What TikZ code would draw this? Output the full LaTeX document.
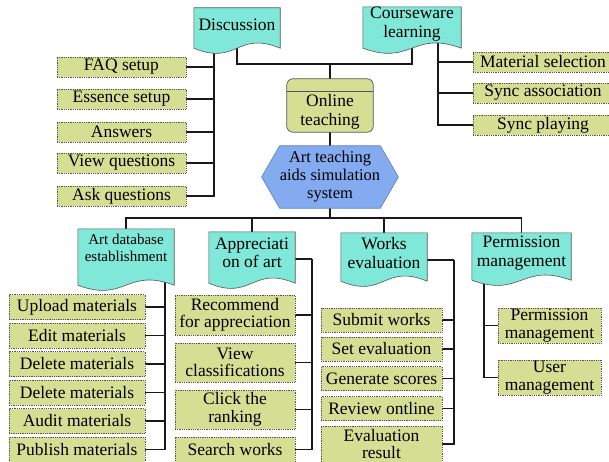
\documentclass[tikz,border=0pt]{standalone}
\usepackage{fontspec}
\setmainfont{Liberation Serif}
\usetikzlibrary{calc}
\pgfdeclarelayer{edges}
\pgfdeclarelayer{shapes}
\pgfsetlayers{edges,shapes,main}
\definecolor{docfill}{HTML}{80E8D8}
\definecolor{leaffill}{HTML}{D5DF94}
\definecolor{hexfill}{HTML}{84AAF0}
\definecolor{hexline}{HTML}{5C7EC0}
\definecolor{edgegray}{HTML}{555555}
\tikzset{
  txt/.style={font=\fontsize{17.5}{18.5}\selectfont, align=center, inner sep=0pt, text=black},
  docnode/.style={txt},
  leafbox/.style={txt, font=\fontsize{17.5}{17.5}\selectfont, draw=edgegray, densely dotted, line width=0.8pt, fill=leaffill},
  docline/.style={draw=edgegray, line width=0.6pt, fill=docfill},
  conn/.style={draw=black!90, line width=1.3pt},
}
\newcommand\docshape[2]{%
  \draw[docline] (#1.north west) -- (#1.north east) -- ($(#1.south east)+(0,#2)$)
    .. controls ($(#1.south)+(0,#2-18)$) and ($(#1.south)+(0,#2+18)$) .. ($(#1.south west)+(0,#2)$) -- cycle;}
\begin{document}
\begin{tikzpicture}[x=1pt,y=-1pt]
\useasboundingbox (0,0) rectangle (609,462);
% top level
\node[docnode, minimum width=86, minimum height=34] (disc) at (237,25) {Discussion};
\node[docnode, minimum width=98, minimum height=32] (course) at (412,24) {Courseware\\learning};
\node[txt, minimum width=86, minimum height=40] (online) at (330,112) {Online\\teaching};
\node[txt, font=\fontsize{16.5}{18}\selectfont, minimum width=100, minimum height=62] (hex) at (330,177) {Art teaching\\aids simulation\\system};
% second level
\node[docnode, font=\fontsize{15}{17}\selectfont, minimum width=96, minimum height=38] (artdb) at (126,248) {Art database\\establishment};
\node[docnode, minimum width=86, minimum height=42] (appr) at (252,253) {Appreciati\\on of art};
\node[docnode, minimum width=86, minimum height=40] (works) at (384,253) {Works\\evaluation};
\node[docnode, minimum width=99, minimum height=40] (perm) at (521.5,253) {Permission\\management};
% discussion items
\node[leafbox, minimum width=129, minimum height=20] (faq) at (121.5,67) {FAQ setup};
\node[leafbox, minimum width=129, minimum height=20] (ess) at (121.5,99) {Essence setup};
\node[leafbox, minimum width=129, minimum height=20] (ans) at (121.5,132) {Answers};
\node[leafbox, minimum width=129, minimum height=20] (viewq) at (121.5,163) {View questions};
\node[leafbox, minimum width=129, minimum height=20] (askq) at (121.5,196) {Ask questions};
% courseware items
\node[leafbox, minimum width=140, minimum height=20] (mat) at (543,62) {Material selection};
\node[leafbox, minimum width=140, minimum height=20] (sasso) at (543,93) {Sync association};
\node[leafbox, minimum width=140, minimum height=20] (splay) at (543,125) {Sync playing};
% art database items
\node[leafbox, minimum width=136, minimum height=25] (up) at (77,307) {Upload materials};
\node[leafbox, minimum width=136, minimum height=25] (edit) at (77,335.5) {Edit materials};
\node[leafbox, minimum width=136, minimum height=25] (del1) at (77,364) {Delete materials};
\node[leafbox, minimum width=136, minimum height=25] (del2) at (77,392.5) {Delete materials};
\node[leafbox, minimum width=136, minimum height=25] (aud) at (77,421) {Audit materials};
\node[leafbox, minimum width=136, minimum height=25] (pub) at (77,449.5) {Publish materials};
% appreciation items
\node[leafbox, minimum width=120, minimum height=40] (rec) at (235,315) {Recommend\\for appreciation};
\node[leafbox, minimum width=120, minimum height=39] (viewc) at (235,362.5) {View\\classifications};
\node[leafbox, minimum width=120, minimum height=39] (click) at (235,409.5) {Click the\\ranking};
\node[leafbox, minimum width=120, minimum height=25] (search) at (235,449.5) {Search works};
% works items
\node[leafbox, minimum width=121, minimum height=24] (sub) at (381.5,320) {Submit works};
\node[leafbox, minimum width=121, minimum height=24] (seteval) at (381.5,349) {Set evaluation};
\node[leafbox, minimum width=121, minimum height=24] (gen) at (381.5,378.5) {Generate scores};
\node[leafbox, minimum width=121, minimum height=24] (rev) at (381.5,408.5) {Review ontline};
\node[leafbox, minimum width=121, minimum height=36] (evres) at (381.5,444) {Evaluation\\result};
% permission items
\node[leafbox, minimum width=103, minimum height=35] (pm) at (549.5,325.5) {Permission\\management};
\node[leafbox, minimum width=103, minimum height=35] (um) at (549.5,377.5) {User\\management};
% shapes
\begin{pgfonlayer}{shapes}
\docshape{disc}{6}
\docshape{course}{7}
\docshape{artdb}{18}
\docshape{appr}{9}
\docshape{works}{8}
\docshape{perm}{7}
\draw[draw=hexline, line width=0.6pt, fill=hexfill] (hex.north west) -- (hex.north east) -- ($(hex.east)+(18,0)$) -- (hex.south east) -- (hex.south west) -- ($(hex.west)+(-18,0)$) -- cycle;
\draw[draw=edgegray, line width=0.7pt, fill=leaffill, rounded corners=6pt] ($(online.north west)+(0,-13)$) rectangle (online.south east);
\draw[draw=edgegray, line width=0.7pt] (online.north west) -- (online.north east);
\end{pgfonlayer}
% connectors
\begin{pgfonlayer}{edges}
\coordinate (tb) at (330,64);
\coordinate (mb) at (330,218);
\draw[conn] (disc.center) |- (tb) -| (course.center);
\draw[conn] (tb) -- (online.north);
\draw[conn] (online.south) -- (hex.north);
\draw[conn] (hex.south) -- (mb);
\draw[conn] (mb) -| (artdb.north);
\draw[conn] (mb) -| (appr.north);
\draw[conn] (mb) -| (works.north);
\draw[conn] (mb) -| (perm.north);
\coordinate (dt) at (214,40);
\foreach \n in {faq,ess,ans,viewq,askq} \draw[conn] (dt) |- (\n.east);
\coordinate (ct) at (438,40);
\foreach \n in {mat,sasso,splay} \draw[conn] (ct) |- (\n.west);
\coordinate (at) at (165,265);
\foreach \n in {up,edit,del1,del2,aud,pub} \draw[conn] (at) |- (\n.east);
\coordinate (pt) at (312,259);
\draw[conn] (appr.center |- pt) -- (pt);
\foreach \n in {rec,viewc,click,search} \draw[conn] (pt) |- (\n.east);
\coordinate (wt) at (454,260);
\draw[conn] (works.center |- wt) -- (wt);
\foreach \n in {sub,seteval,gen,rev,evres} \draw[conn] (wt) |- (\n.east);
\coordinate (mt) at (484,270);
\foreach \n in {pm,um} \draw[conn] (mt) |- (\n.west);
\end{pgfonlayer}
\end{tikzpicture}
\end{document}
